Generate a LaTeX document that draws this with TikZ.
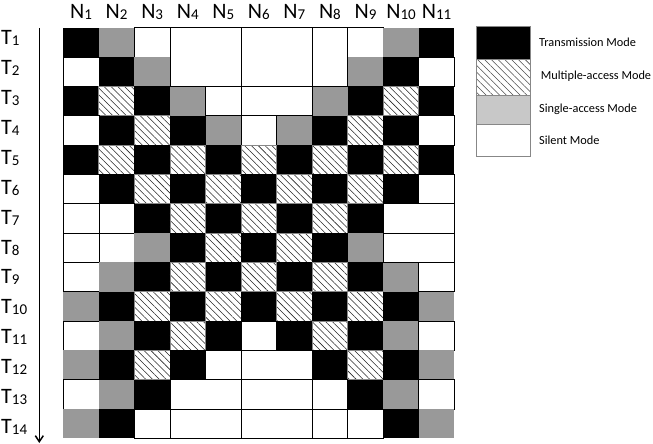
\documentclass[tikz,border=0pt]{standalone}
\usepackage{fontspec}
\setmainfont{Carlito}
\usetikzlibrary{arrows.meta,patterns.meta}
\definecolor{singlegray}{RGB}{153,153,153}
\definecolor{legendgray}{RGB}{200,200,200}
\definecolor{hatchedge}{RGB}{135,135,135}
\newcommand{\nsub}[1]{\raisebox{-1pt}{\fontsize{15}{15}\selectfont #1}}

\begin{document}
\begin{tikzpicture}[
  x=1pt,y=-1pt,
  cell/.style={inner sep=0pt,outer sep=0pt,minimum width=35.55pt,minimum height=29.33pt},
  cellB/.style={cell,fill=black},
  cellG/.style={cell,fill=singlegray},
  cellW/.style={cell,fill=white,draw=black,line width=0.7pt},
  cellM/.style={cell,fill=white},
  hatch/.style={fill=white,pattern={Lines[angle=-45,distance=4.8pt,line width=0.55pt]},pattern color=black!85},
  cellH/.style={cell,hatch,draw=hatchedge,line width=0.8pt},
  mframe/.style={draw=black,line width=0.7pt},
  axis/.style={line width=0.8pt,-{Straight Barb[length=6pt,width=8pt,line width=1.5pt]}},
  tlab/.style={font=\fontsize{22}{22}\selectfont,anchor=base west,inner sep=0pt},
  nlab/.style={font=\fontsize{22}{22}\selectfont,anchor=base,inner sep=0pt},
  legbox/.style={draw=hatchedge,line width=0.6pt,minimum width=54pt,inner sep=0pt,outer sep=0pt,anchor=north west},
  legtext/.style={font=\fontsize{12.3}{13}\selectfont,anchor=west,inner sep=0pt},
]
\useasboundingbox (0,0) rectangle (653,444);

% mode of every node N1..N11 in every slot T1..T14
\foreach \cells [count=\r] in {
  {B,G,W,M,M,M,M,M,W,G,B},
  {W,B,G,M,M,M,M,M,G,B,W},
  {B,H,B,G,W,M,M,G,B,H,B},
  {W,B,H,B,G,W,G,B,H,B,W},
  {B,H,B,H,B,H,B,H,B,H,B},
  {W,B,H,B,H,B,H,B,H,B,W},
  {W,W,B,H,B,H,B,H,B,M,M},
  {W,W,G,B,H,B,H,B,G,M,M},
  {W,G,B,H,B,H,B,H,B,G,W},
  {G,B,H,B,H,B,H,B,H,B,G},
  {W,G,B,H,B,W,B,H,B,G,W},
  {G,B,H,B,W,M,M,B,H,B,G},
  {W,G,B,M,M,M,M,W,B,G,W},
  {G,B,W,M,M,M,M,W,W,B,G}}
  \foreach \m [count=\k] in \cells
    \node[cell\m] (c-\r-\k) at ({63.3+(\k-0.5)*35.55},{27.7+(\r-0.5)*29.33}) {};

% merged silent cells
\foreach \ra/\ka/\rb/\kb in {1/4/2/5,1/6/2/7,1/8/2/8,3/6/3/7,7/10/7/11,8/10/8/11,
  12/6/12/7,13/4/13/5,13/6/13/7,14/4/14/5,14/6/14/7}
  \draw[mframe] (c-\ra-\ka.north west) rectangle (c-\rb-\kb.south east);

% node labels
\foreach \k in {1,...,11}
  \node[nlab] (n-\k) at ({63.3+(\k-0.5)*35.55},19) {N\nsub{\k}};

% slot labels and time axis
\foreach \r in {1,...,14}
  \node[tlab] (t-\r) at (1,{45+(\r-1)*29.87}) {T\nsub{\r}};
\coordinate (ax-top) at (39.3,28);
\coordinate (ax-bot) at (39.3,443);
\draw[axis] (ax-top) -- (ax-bot);

% legend
\node[legbox,fill=black,minimum height=33.3pt] (lg-t) at (476.7,26) {};
\node[legbox,hatch,draw=hatchedge,pattern color=black!70,minimum height=35.7pt] (lg-m) at (lg-t.south west) {};
\node[legbox,fill=legendgray,minimum height=29.3pt] (lg-s) at (lg-m.south west) {};
\node[legbox,fill=white,minimum height=32.4pt] (lg-w) at (lg-s.south west) {};
\node[legtext] (lt-t) at ([xshift=8.3pt]lg-t.east) {Transmission Mode};
\node[legtext] (lt-m) at ([xshift=10pt,yshift=1pt]lg-m.east) {Multiple-access Mode};
\node[legtext] (lt-s) at ([xshift=8.3pt]lg-s.east) {Single-access Mode};
\node[legtext] (lt-w) at ([xshift=8.3pt]lg-w.east) {Silent Mode};
\end{tikzpicture}
\end{document}
